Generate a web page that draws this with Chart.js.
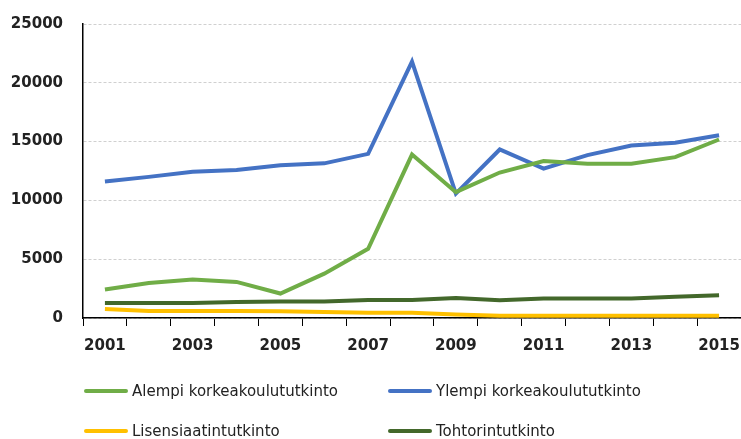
<!DOCTYPE html>
<html>
<head>
<meta charset="utf-8">
<script src="https://cdn.jsdelivr.net/npm/chart.js@4.4.1/dist/chart.umd.min.js"></script>
<style>
  html, body { margin: 0; padding: 0; background: #fff; }
  #wrap { position: relative; width: 741px; height: 439px; }
  #legend { position: absolute; left: 0; top: 0; width: 741px; height: 439px; pointer-events: none;
            font-family: "DejaVu Sans", Verdana, sans-serif; font-size: 15px; color: #222; }
  .item { position: absolute; display: flex; align-items: center; white-space: nowrap; }
  .item span.line { display: inline-block; width: 44px; height: 4px; margin-right: 4px; border-radius: 2px; }
</style>
</head>
<body>
<div id="wrap">
  <canvas id="chart1" width="741" height="439"></canvas>
  <div id="legend"></div>
</div>
<script>
const years = ["2001", "2002", "2003", "2004", "2005", "2006", "2007", "2008", "2009", "2010", "2011", "2012", "2013", "2014", "2015"];
const alempi = [2420, 2980, 3270, 3070, 2080, 3770, 5890, 13900, 10700, 12370, 13340, 13120, 13120, 13680, 15180];
const ylempi = [11600, 12000, 12440, 12580, 12980, 13150, 13960, 21800, 10580, 14330, 12700, 13850, 14670, 14900, 15540];
const lisensiaatti = [760, 600, 590, 590, 580, 520, 450, 450, 300, 200, 200, 200, 200, 200, 200];
const tohtori = [1270, 1270, 1270, 1350, 1400, 1400, 1520, 1540, 1690, 1520, 1660, 1660, 1660, 1800, 1940];
const seriesNames = ["Alempi korkeakoulututkinto", "Ylempi korkeakoulututkinto", "Lisensiaatintutkinto", "Tohtorintutkinto"];
const seriesColors = ['#70ad47', '#4472c4', '#ffc000', '#43682b'];

const tickFont = { family: 'DejaVu Sans', size: 15, weight: 'bold' };

function ds(i, values) {
    return {
        label: seriesNames[i],
        data: values,
        borderColor: seriesColors[i],
        backgroundColor: seriesColors[i],
        borderWidth: 4,
        pointRadius: 0,
        tension: 0,
        fill: false
    };
}

const chart = new Chart("chart1", {
    type: "line",
    data: {
        labels: years,
        datasets: [ds(0, alempi), ds(1, ylempi), ds(2, lisensiaatti), ds(3, tohtori)]
    },
    options: {
        responsive: false,
        animation: false,
        layout: { padding: { left: 0, right: 0, top: 24, bottom: 76 } },
        plugins: {
            legend: { display: false },
            tooltip: { enabled: false }
        },
        scales: {
            x: {
                offset: true,
                grid: { drawOnChartArea: false, drawTicks: true, tickLength: 8, color: '#000', offset: true },
                border: { color: '#000', width: 1.5 },
                ticks: {
                    autoSkip: false,
                    maxRotation: 0,
                    padding: 11,
                    color: '#222',
                    font: tickFont,
                    callback: function (v, i) { return i % 2 === 0 ? this.getLabelForValue(v) : ''; }
                },
                afterFit: function (s) { s.height = 45; s.paddingLeft = 0; s.paddingRight = 0; }
            },
            y: {
                min: 0,
                max: 25000,
                ticks: {
                    stepSize: 5000, padding: 20, color: '#222', font: tickFont,
                    callback: function (v) { return String(v); }
                },
                grid: { color: '#d0d0d0', drawTicks: false },
                border: { color: '#000', width: 1.5, dash: [3, 2] },
                afterFit: function (s) { s.width = 83; s.paddingTop = 0; s.paddingBottom = 0; }
            }
        }
    }
});

// legend in two fixed columns
const legendPos = [[84, 391], [388, 391], [84, 431], [388, 431]];
const legendBox = document.getElementById('legend');
chart.data.datasets.forEach(function (d, i) {
    const el = document.createElement('div');
    el.className = 'item';
    el.style.left = legendPos[i][0] + 'px';
    el.style.top = (legendPos[i][1] - 10) + 'px';
    el.style.height = '20px';
    el.innerHTML = '<span class="line" style="background:' + d.borderColor + '"></span>' + d.label;
    legendBox.appendChild(el);
});
</script>
</body>
</html>
